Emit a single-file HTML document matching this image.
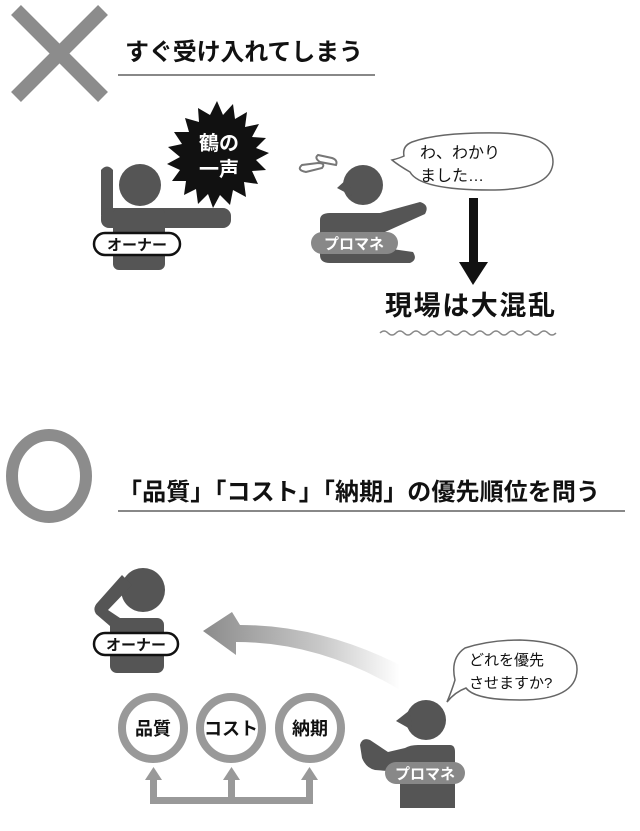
<!DOCTYPE html>
<html><head><meta charset="utf-8"><style>
html,body{margin:0;padding:0;background:#fff;width:640px;height:831px;overflow:hidden}
text{font-family:"Liberation Sans","Noto Sans CJK JP",sans-serif;font-weight:bold}
</style></head><body>
<svg width="640" height="831" viewBox="0 0 640 831" xmlns="http://www.w3.org/2000/svg">
<defs>
<linearGradient id="g" x1="200" y1="0" x2="400" y2="0" gradientUnits="userSpaceOnUse">
<stop offset="0" stop-color="#8a8a8a"/><stop offset="0.6" stop-color="#c8c8c8"/><stop offset="1" stop-color="#fff"/>
</linearGradient>
</defs>
<line x1="16" y1="10" x2="103" y2="97" stroke="#8c8c8c" stroke-width="14"/>
<line x1="103" y1="10" x2="16" y2="97" stroke="#8c8c8c" stroke-width="14"/>
<text x="125" y="60" font-size="24" fill="#111" textLength="238">すぐ受け入れてしまう</text>
<line x1="118" y1="75" x2="375" y2="75" stroke="#888" stroke-width="2"/>

<g fill="#555">
<circle cx="140" cy="185" r="21"/>
<path d="M101 170 Q107 163 113 170 L113 215 L101 215 Z"/>
<rect x="101" y="208" width="130" height="20" rx="8"/>
<rect x="113" y="208" width="52" height="62" rx="6"/>
</g>
<rect x="94" y="233" width="86" height="22" rx="11" fill="#fff" stroke="#111" stroke-width="2.5"/>
<text x="137" y="250" font-size="15" fill="#111" text-anchor="middle">オーナー</text>

<polygon fill="#111" points="
217,101 223,115 233,104 235,119 247,112 245,127 259,124 252,137 266,138 256,148 269,153 256,160 266,170 252,171 258,184 244,182 246,197 233,190 230,205 220,195 213,208 208,194 198,204 196,189 184,195 186,181 172,181 180,170 167,164 180,157 168,147 182,144 174,132 189,132 185,118 199,122 198,108 210,115"/>
<text x="219" y="150" font-size="20" fill="#fff" text-anchor="middle">鶴の</text>
<text x="219" y="176" font-size="20" fill="#fff" text-anchor="middle">一声</text>

<g fill="none" stroke="#777" stroke-width="2">
<path d="M302 165 Q296 170 306 172 L322 168 Q326 163 318 163 Z"/>
<path d="M318 155 Q314 158 320 162 L336 165 Q338 160 332 158 Z"/>
</g>
<g fill="#555">
<circle cx="363" cy="185" r="20"/>
<polygon points="337,188 348,178 352,196"/>
<path d="M320 220 Q320 213 330 213 L380 213 L420 202 Q430 205 425 214 L385 232 L385 248 L413 252 Q418 260 410 263 L330 263 Q320 263 320 255 Z"/>
</g>
<rect x="311" y="232" width="87" height="22" rx="11" fill="#888"/>
<text x="354" y="249" font-size="15" fill="#fff" text-anchor="middle">プロマネ</text>

<path d="M412 142 Q440 132 500 133 Q553 135 553 162 Q552 190 490 190 Q420 190 410 172 Q398 165 392 160 Q400 158 404 156 Q402 146 412 142 Z" fill="#fff" stroke="#666" stroke-width="1.5"/>
<text x="420" y="158" font-size="16" fill="#111" style="font-weight:normal">わ、わかり</text>
<text x="420" y="181" font-size="16" fill="#111" style="font-weight:normal">ました…</text>

<rect x="469" y="198" width="9" height="68" fill="#111"/>
<polygon points="459,262 488,262 473,285" fill="#111"/>
<text x="385" y="315" font-size="27" fill="#111" textLength="170">現場は大混乱</text>
<path d="M380 333 q4 -4 8 0 q4 4 8 0 q4 -4 8 0 q4 4 8 0 q4 -4 8 0 q4 4 8 0 q4 -4 8 0 q4 4 8 0 q4 -4 8 0 q4 4 8 0 q4 -4 8 0 q4 4 8 0 q4 -4 8 0 q4 4 8 0 q4 -4 8 0 q4 4 8 0 q4 -4 8 0 q4 4 8 0 q4 -4 8 0 q4 4 8 0 q4 -4 8 0 q4 4 8 0" fill="none" stroke="#888" stroke-width="1.5"/>

<ellipse cx="49" cy="476" rx="37" ry="41" fill="none" stroke="#8c8c8c" stroke-width="12"/>
<text x="118" y="500" font-size="24" fill="#111" textLength="482">「品質」「コスト」「納期」の優先順位を問う</text>
<line x1="118" y1="511" x2="625" y2="511" stroke="#888" stroke-width="2"/>

<g fill="#555">
<circle cx="143" cy="590" r="22"/>
<path d="M122 575 L132 585 L108 610 L120 618 L110 626 L96 614 Q92 608 98 602 Z"/>
<rect x="110" y="618" width="54" height="55" rx="7"/>
</g>
<rect x="94" y="633" width="84" height="22" rx="11" fill="#fff" stroke="#111" stroke-width="2.5"/>
<text x="136" y="650" font-size="15" fill="#111" text-anchor="middle">オーナー</text>

<path d="M400 665 Q320 625 240 625 L232 612 L203 631 L236 655 L236 642 Q320 642 400 690 Z" fill="url(#g)"/>

<path d="M465 648 Q490 640 520 640 Q578 642 577 670 Q576 700 520 700 Q475 700 466 688 Q455 692 447 702 Q452 690 455 680 Q450 658 465 648 Z" fill="#fff" stroke="#666" stroke-width="1.5"/>
<text x="469" y="665" font-size="15" fill="#111" style="font-weight:normal">どれを優先</text>
<text x="469" y="688" font-size="15" fill="#111" style="font-weight:normal">させますか?</text>

<g fill="#555">
<circle cx="426" cy="720" r="20"/>
<polygon points="396,721 410,710 412,730"/>
<path d="M360 745 Q362 737 370 740 L388 752 L405 748 Q410 745 418 745 L450 745 Q455 745 455 752 L455 808 L400 808 L400 772 L375 770 Q366 768 362 758 Z"/>
</g>
<rect x="385" y="762" width="80" height="22" rx="11" fill="#888"/>
<text x="425" y="779" font-size="15" fill="#fff" text-anchor="middle">プロマネ</text>

<g fill="#fff" stroke="#999" stroke-width="8">
<circle cx="153" cy="728" r="31"/>
<circle cx="231" cy="728" r="31"/>
<circle cx="310" cy="728" r="31"/>
</g>
<text x="153" y="735" font-size="18" fill="#111" text-anchor="middle">品質</text>
<text x="231" y="735" font-size="18" fill="#111" text-anchor="middle">コスト</text>
<text x="310" y="735" font-size="18" fill="#111" text-anchor="middle">納期</text>

<g fill="#999">
<rect x="150" y="778" width="7" height="26"/>
<rect x="228" y="778" width="7" height="26"/>
<rect x="306" y="778" width="7" height="26"/>
<rect x="150" y="797" width="163" height="7"/>
<polygon points="145,780 162,780 153.5,767"/>
<polygon points="223,780 240,780 231.5,767"/>
<polygon points="301,780 318,780 309.5,767"/>
</g>
</svg>
</body></html>
